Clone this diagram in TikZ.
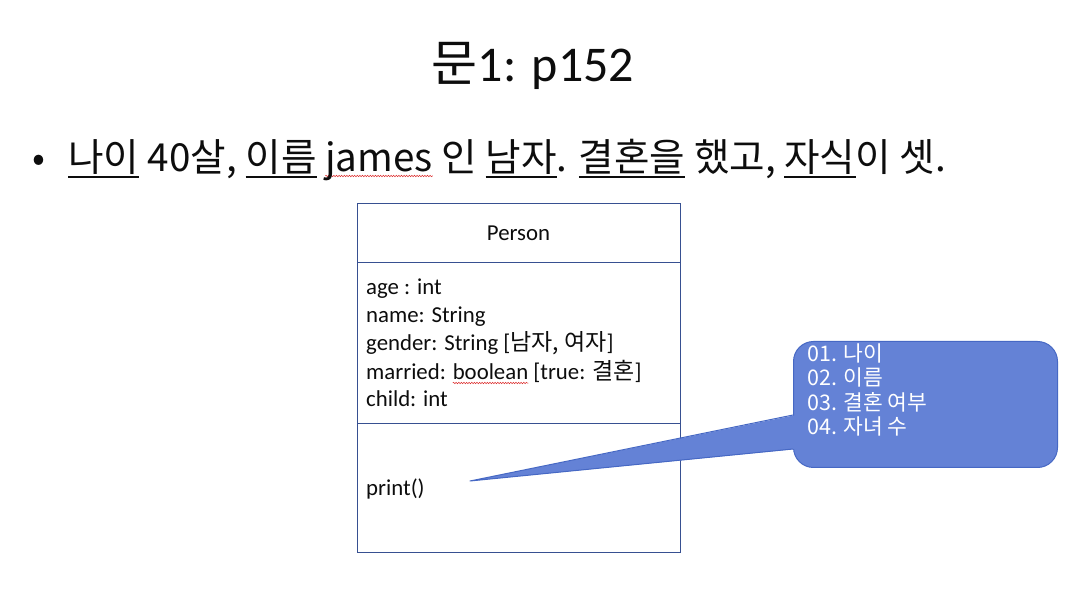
\documentclass[tikz,border=0pt]{standalone}
\usepackage{fontspec}
\setmainfont{Carlito}
\newfontfamily\kr{Noto Sans CJK KR}
\usetikzlibrary{calc,decorations.pathmorphing}
\definecolor{boxline}{RGB}{55,80,145}
\definecolor{notefill}{RGB}{100,130,214}
\definecolor{noteline}{RGB}{70,104,196}
\definecolor{txt}{RGB}{13,13,13}
\definecolor{spellred}{RGB}{220,40,40}
\newcommand\ulk[1]{\setbox0\hbox{#1}\rlap{\rule[-6pt]{\wd0}{1.6pt}}\box0\relax}
\newcommand\spl[1]{\setbox0\hbox{#1}\rlap{\tikz[baseline=0pt]{\path (0pt,0pt); \draw[overlay,spellred,line width=0.5pt,decorate,decoration={snake,amplitude=0.7pt,segment length=2.6pt}] (0pt,-4pt) -- (\the\wd0,-4pt);}}\box0\relax}
\newcommand\krbox{\kr\fontsize{23}{28}\selectfont}
\tikzset{
  classbox/.style={draw=boxline, line width=1pt, fill=white, inner sep=0pt},
  divider/.style={draw=boxline, line width=1pt},
  clstext/.style={inner sep=0pt, text=txt, font=\fontsize{22.8}{28}\selectfont},
  notebox/.style={fill=notefill, draw=noteline, line width=1pt, rounded corners=20pt, inner sep=0pt},
  notetext/.style={inner sep=0pt, text=white, font=\kr\fontsize{21.5}{24.6}\selectfont},
  bigtext/.style={inner sep=0pt, text=txt}
}
\begin{document}
\begin{tikzpicture}[x=1pt,y=-1pt]
\fill[white] (0,0) rectangle (1074,593);
\path[use as bounding box] (0,0) rectangle (1074,593);
% title
\node[bigtext, anchor=base, font=\fontsize{50}{54}\selectfont] (title) at (533,82) {{\kr 문}1: p152};
% bullet line
\node[bigtext, anchor=base, font=\kr\fontsize{38}{40}\selectfont] (dot) at (39,172) {•};
\node[bigtext, anchor=base west, font=\kr\fontsize{38.6}{40}\selectfont] (line) at (68,172)
  {\ulk{나이} 40살, \ulk{이름} \spl{james} 인 \ulk{남자}. \ulk{결혼을} 했고, \ulk{자식}이 셋.};
% class box
\node[classbox, minimum width=323pt, minimum height=349pt, anchor=north west] (cls) at (357,203) {};
\draw[divider] ($(cls.north west)+(0,60)$) -- ($(cls.north east)+(0,60)$);
\draw[divider] ($(cls.north west)+(0,221)$) -- ($(cls.north east)+(0,221)$);
\node[clstext, anchor=base] (pname) at (518.5,241) {Person};
\node[clstext, anchor=base west, align=left] (attrs) at (366,407)
  {age : int\\name: String\\gender: String [{\krbox 남자, 여자}]\\married: \spl{boolean} [true: {\krbox 결혼}]\\child: int};
\node[clstext, anchor=base west] (meth) at (366,495) {print()};
% callout
\node[notebox, minimum width=264pt, minimum height=126pt, anchor=north west] (note) at (793,341) {};
\coordinate (tip) at (470,481);
\coordinate (w1) at ($(note.north west)+(0,74)$);
\coordinate (w2) at ($(note.north west)+(0,108)$);
\fill[notefill] (tip) -- ($(w1)+(3,0)$) -- ($(w2)+(3,0)$) -- cycle;
\draw[noteline, line width=1pt, line join=round] (w1) -- (tip) -- (w2);
\node[notetext, anchor=base west, align=left] (notelines) at (807,435)
  {01. 나이\\02. 이름\\03. 결혼 여부\\04. 자녀 수};
\end{tikzpicture}
\end{document}
